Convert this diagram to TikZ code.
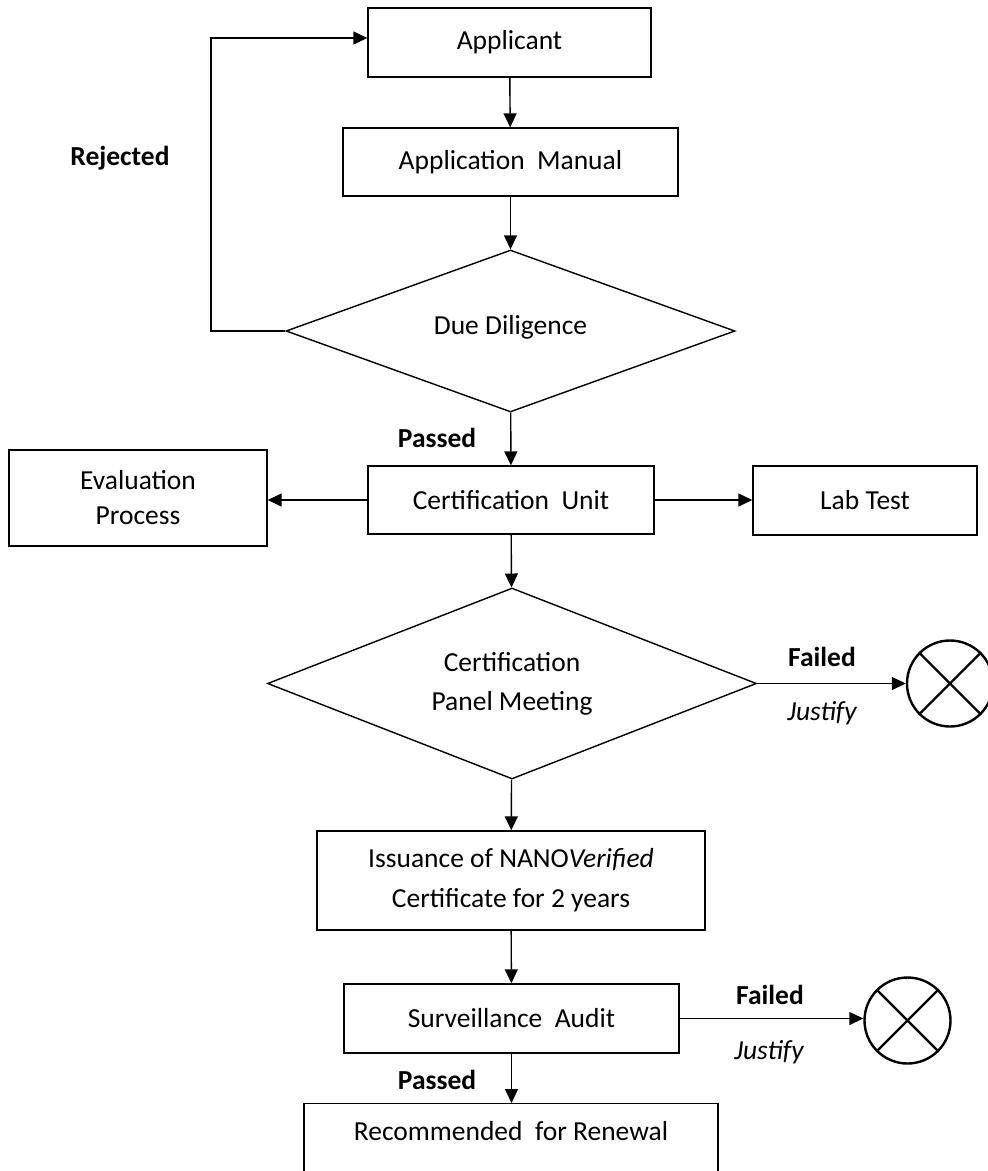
\documentclass[tikz,border=0pt]{standalone}
\usepackage{fontspec}
\setmainfont{Carlito}
\usetikzlibrary{shapes.geometric,arrows.meta}
\begin{document}
\begin{tikzpicture}[x=1pt,y=-1pt,
  every node/.style={font=\fontsize{27.5}{35}\selectfont, inner sep=0pt},
  box/.style={draw, line width=1.4pt, align=center},
  dmd/.style={draw, diamond, line width=1.4pt, align=center},
  stopc/.style={draw, circle, line width=2.4pt, minimum size=86pt},
  cross/.style={line width=2.4pt},
  arr/.style={line width=1.4pt, -{Triangle[length=14pt,width=13pt]}},
  boldlbl/.style={font=\fontsize{27.5}{35}\selectfont\bfseries},
  itlbl/.style={font=\fontsize{27.5}{35}\selectfont\itshape}]
\useasboundingbox (0,0) rectangle (988,1171);
\clip (0,0) rectangle (988,1171);

\node[box, minimum width=283pt, minimum height=69pt] (app) at (509.5,42.5) {Applicant};
\node[box, minimum width=335pt, minimum height=68pt] (man) at (510.5,162) {Application\ \ Manual};
\node[dmd, shape aspect=2.77, minimum width=449pt, minimum height=162pt] (dd) at (510.5,331) {\raisebox{12pt}{Due Diligence}};
\node[box, minimum width=286pt, minimum height=68pt] (cu) at (511,500) {Certification\ \ Unit};
\node[box, minimum width=258pt, minimum height=96pt] (ev) at (138,498) {Evaluation\\Process};
\node[box, minimum width=224pt, minimum height=69pt] (lab) at (865,500.5) {Lab Test};
\node[dmd, shape aspect=2.56, minimum width=489pt, minimum height=191pt, font=\fontsize{27.5}{39}\selectfont] (cpm) at (512,683.5) {Certification\\Panel Meeting};
\node[stopc] (x1) at (950,683.5) {};
\node[box, minimum width=388pt, minimum height=99pt, font=\fontsize{27.5}{40}\selectfont] (iss) at (511,880.5) {Issuance of NANO\textit{Verified}\\Certificate\ for 2 years};
\node[box, minimum width=335pt, minimum height=69pt] (sa) at (511.5,1018.5) {Surveillance\ \ Audit};
\node[stopc] (x2) at (907.5,1020.5) {};
\node[box, anchor=north, minimum width=414pt, minimum height=120pt] (rec) at (511,1103) {};
\node (rect) at (511,1131) {Recommended\ \ for Renewal};

\coordinate (lpB) at (211,331);
\coordinate (lpT) at (211,38);

\node[boldlbl] (rej) at (120,158) {Rejected};
\node[boldlbl] (pass1) at (437,438) {Passed};
\node[boldlbl] (fail1) at (822,657) {Failed};
\node[itlbl] (just1) at (822,713) {Justify};
\node[boldlbl] (fail2) at (770,995) {Failed};
\node[itlbl] (just2) at (769,1052) {Justify};
\node[boldlbl] (pass2) at (437,1080) {Passed};

\draw[arr] (app) -- (man);
\draw[arr] (man) -- (dd);
\draw[arr] (dd.west) -- (lpB) -- (lpT) -- (lpT -| app.west);
\draw[arr] (dd) -- (cu);
\draw[arr] (cu.west) -- (cu.west -| ev.east);
\draw[arr] (cu.east) -- (cu.east -| lab.west);
\draw[arr] (cu) -- (cpm);
\draw[arr] (cpm.east) -- (x1.west);
\draw[arr] (cpm) -- (iss);
\draw[arr] (iss) -- (sa);
\draw[arr] (sa.east) -- (sa.east -| x2.west);
\draw[arr] (sa.south) -- (sa.south |- rec.north);

\draw[cross] (x1.45) -- (x1.225) (x1.135) -- (x1.315);
\draw[cross] (x2.45) -- (x2.225) (x2.135) -- (x2.315);
\end{tikzpicture}
\end{document}
